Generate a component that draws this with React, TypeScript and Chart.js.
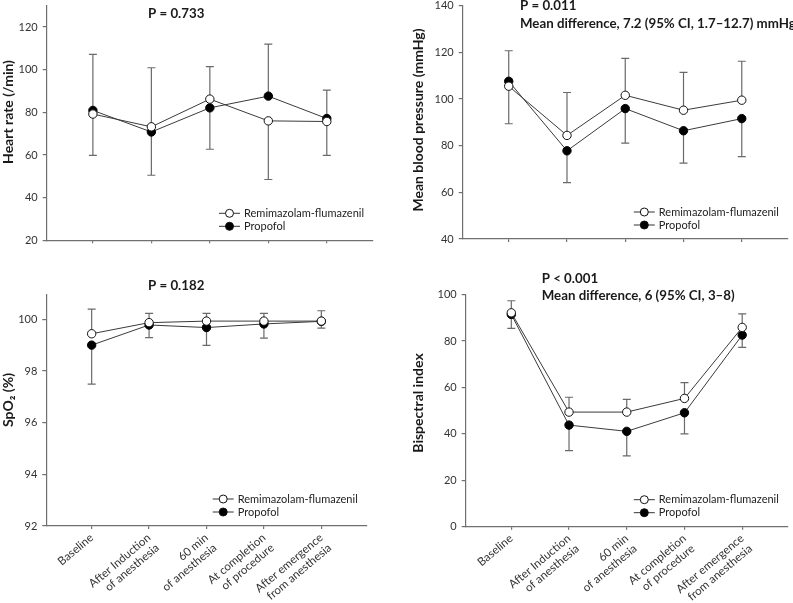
import React, { useEffect, useRef } from "react";
import { Chart, registerables } from "chart.js";

Chart.register(...registerables);

// ---------- data ----------
const categories: string[][] = [
  ["Baseline"],
  ["After Induction", "of anesthesia"],
  ["60 min", "of anesthesia"],
  ["At completion", "of procedure"],
  ["After emergence", "from anesthesia"],
];
const seriesNames = ["Remimazolam-flumazenil", "Propofol"];

// Heart rate
const hrRemi = [79.2, 73.2, 86.2, 76.0, 75.7];
const hrProp = [80.9, 70.8, 82.1, 87.6, 77.1];
const hrRemiErr = [59.8, 100.9, 101.4, 48.5, 59.8];
const hrPropErr = [107.2, 50.5, 62.7, 112.0, 90.4];
const hrTicks = [20, 40, 60, 80, 100, 120];

// Mean blood pressure
const mbpRemi = [105.5, 84.4, 101.6, 95.2, 99.5];
const mbpProp = [107.6, 77.8, 95.9, 86.4, 91.6];
const mbpRemiErr = [89.4, 102.8, 117.4, 111.4, 116.2];
const mbpPropErr = [120.7, 64.2, 81.1, 72.5, 75.3];
const mbpTicks = [40, 60, 80, 100, 120, 140];

// SpO2
const spo2Remi = [99.44, 99.87, 99.93, 99.93, 99.93];
const spo2Prop = [99.0, 99.78, 99.68, 99.82, 99.92];
const spo2RemiErr = [100.39, 100.23, 100.23, 100.23, 100.33];
const spo2PropErr = [97.49, 99.29, 98.99, 99.27, 99.66];
const spo2Ticks = [92, 94, 96, 98, 100];

// Bispectral index
const bisRemi = [92.2, 49.4, 49.4, 55.3, 85.9];
const bisProp = [91.5, 43.8, 41.1, 49.1, 82.6];
const bisRemiErr = [97.4, 55.8, 54.9, 62.1, 91.7];
const bisPropErr = [85.5, 32.8, 30.5, 40.0, 77.3];
const bisTicks = [0, 20, 40, 60, 80, 100];

// ---------- layout ----------
const W = 793;
const H = 603;
const Y_W = 40;
const FONT = "Lato, 'Open Sans', sans-serif";
const AXIS = "#707070";

type Panel = {
  remi: number[];
  prop: number[];
  remiErr: number[];
  propErr: number[];
  ticks: number[];
  yMin: number;
  yMax: number;
  yTitle: string;
  titleX: number;
  titleY: number;
  notes: { text: string; x: number; y: number }[];
  area: { l: number; r: number; t: number; b: number };
  showX: boolean;
};

const panels: Panel[] = [
  {
    remi: hrRemi, prop: hrProp, remiErr: hrRemiErr, propErr: hrPropErr,
    ticks: hrTicks, yMin: 20, yMax: 130,
    yTitle: "Heart rate (/min)", titleX: 8, titleY: 112,
    notes: [{ text: "P = 0.733", x: 148, y: 14 }],
    area: { l: 46.7, r: 373, t: 5.7, b: 240.3 }, showX: false,
  },
  {
    remi: mbpRemi, prop: mbpProp, remiErr: mbpRemiErr, propErr: mbpPropErr,
    ticks: mbpTicks, yMin: 40, yMax: 140,
    yTitle: "Mean blood pressure (mmHg)", titleX: 418, titleY: 120,
    notes: [
      { text: "P = 0.011", x: 520, y: 5.5 },
      { text: "Mean difference, 7.2 (95% CI, 1.7\u201312.7) mmHg", x: 520, y: 24 },
    ],
    area: { l: 462.7, r: 791.7, t: 5.7, b: 239 }, showX: false,
  },
  {
    remi: spo2Remi, prop: spo2Prop, remiErr: spo2RemiErr, propErr: spo2PropErr,
    ticks: spo2Ticks, yMin: 92, yMax: 100.94,
    yTitle: "SpO\u2082 (%)", titleX: 8, titleY: 400,
    notes: [{ text: "P = 0.182", x: 148, y: 286 }],
    area: { l: 46.3, r: 366.7, t: 295, b: 526 }, showX: true,
  },
  {
    remi: bisRemi, prop: bisProp, remiErr: bisRemiErr, propErr: bisPropErr,
    ticks: bisTicks, yMin: 0, yMax: 100,
    yTitle: "Bispectral index", titleX: 418, titleY: 403,
    notes: [
      { text: "P < 0.001", x: 541.7, y: 278.3 },
      { text: "Mean difference, 6 (95% CI, 3\u20138)", x: 541.7, y: 296 },
    ],
    area: { l: 465.7, r: 789, t: 294.7, b: 526.7 }, showX: true,
  },
];

function makeOverlay(p: Panel) {
  return {
    id: "overlay",
    beforeDatasetsDraw(chart: any) {
      const ctx = chart.ctx;
      const xs = chart.scales.x;
      const ys = chart.scales.y;
      const pairs = [
        [p.remi, p.remiErr],
        [p.prop, p.propErr],
      ];
      ctx.save();
      ctx.strokeStyle = "#6a6a6a";
      ctx.lineWidth = 1.2;
      pairs.forEach(([means, ends]) => {
        ends.forEach((end, i) => {
          const px = xs.getPixelForValue(i);
          const y0 = ys.getPixelForValue(means[i]);
          const y1 = ys.getPixelForValue(end);
          ctx.beginPath();
          ctx.moveTo(px, y0);
          ctx.lineTo(px, y1);
          ctx.moveTo(px - 4, y1);
          ctx.lineTo(px + 4, y1);
          ctx.stroke();
        });
      });
      ctx.restore();
    },
    afterDraw(chart: any) {
      const ctx = chart.ctx;
      const a = chart.chartArea;
      ctx.save();
      // legend
      const lx = a.right - 154;
      const rows = [a.bottom - 27, a.bottom - 14];
      rows.forEach((ry, k) => {
        ctx.strokeStyle = "#333";
        ctx.lineWidth = 1;
        ctx.beginPath();
        ctx.moveTo(lx, ry);
        ctx.lineTo(lx + 21, ry);
        ctx.stroke();
        ctx.beginPath();
        ctx.arc(lx + 10.5, ry, 4, 0, Math.PI * 2);
        ctx.fillStyle = k === 0 ? "#fff" : "#000";
        ctx.fill();
        ctx.strokeStyle = "#111";
        ctx.stroke();
        ctx.fillStyle = "#222";
        ctx.font = `11px ${FONT}`;
        ctx.textAlign = "left";
        ctx.textBaseline = "middle";
        ctx.fillText(seriesNames[k], lx + 25, ry);
      });
      // notes
      ctx.fillStyle = "#1a1a1a";
      ctx.font = `bold 13.3px ${FONT}`;
      ctx.textAlign = "left";
      ctx.textBaseline = "middle";
      p.notes.forEach((n) => ctx.fillText(n.text, n.x, n.y));
      // y title
      ctx.translate(p.titleX, p.titleY);
      ctx.rotate(-Math.PI / 2);
      ctx.font = `bold 14px ${FONT}`;
      ctx.textAlign = "center";
      ctx.fillText(p.yTitle, 0, 0);
      ctx.restore();
    },
  };
}

function PanelChart({ p }: { p: Panel }) {
  const ref = useRef<HTMLCanvasElement | null>(null);
  useEffect(() => {
    if (!ref.current) return;
    const xH = p.showX ? 76 : 6;
    const chart = new Chart(ref.current, {
      type: "line",
      data: {
        datasets: [
          {
            label: seriesNames[0],
            data: p.remi.map((v, i) => ({ x: i, y: v })),
            borderColor: "#3a3a3a",
            borderWidth: 1,
            pointRadius: 4.2,
            pointBackgroundColor: "#ffffff",
            pointBorderColor: "#111",
            pointBorderWidth: 1,
            fill: false,
            tension: 0,
          },
          {
            label: seriesNames[1],
            data: p.prop.map((v, i) => ({ x: i, y: v })),
            borderColor: "#3a3a3a",
            borderWidth: 1,
            pointRadius: 4.2,
            pointBackgroundColor: "#000000",
            pointBorderColor: "#000",
            pointBorderWidth: 1,
            fill: false,
            tension: 0,
          },
        ],
      },
      options: {
        responsive: false,
        animation: false,
        devicePixelRatio: 1,
        events: [],
        layout: {
          padding: {
            left: p.area.l - Y_W,
            top: p.area.t,
            right: W - p.area.r,
            bottom: H - p.area.b - xH,
          },
        },
        plugins: { legend: { display: false }, tooltip: { enabled: false } },
        scales: {
          x: {
            type: "linear",
            min: -0.79,
            max: 4.79,
            afterBuildTicks: (s: any) => {
              s.ticks = categories.map((_, i) => ({ value: i }));
            },
            afterFit: (s: any) => {
              s.height = xH;
              s.paddingLeft = 0;
              s.paddingRight = 0;
            },
            ticks: {
              display: p.showX,
              autoSkip: false,
              minRotation: 40,
              maxRotation: 40,
              padding: 2,
              color: "#333",
              font: { family: FONT, size: 11.5, lineHeight: 1.15 },
              callback: (v: any) => categories[Math.round(Number(v))] || "",
            },
            grid: {
              display: true,
              drawOnChartArea: false,
              drawTicks: true,
              tickLength: 3,
              color: AXIS,
              lineWidth: 1.2,
            },
            border: { display: true, color: AXIS, width: 1.2 },
          },
          y: {
            type: "linear",
            min: p.yMin,
            max: p.yMax,
            afterBuildTicks: (s: any) => {
              s.ticks = p.ticks.map((v) => ({ value: v }));
            },
            afterFit: (s: any) => {
              s.width = Y_W;
              s.paddingTop = 0;
              s.paddingBottom = 0;
            },
            ticks: {
              padding: 5,
              color: "#333",
              font: { family: FONT, size: 11 },
            },
            grid: {
              display: true,
              drawOnChartArea: false,
              drawTicks: true,
              tickLength: 4,
              color: AXIS,
              lineWidth: 1.2,
            },
            border: { display: true, color: AXIS, width: 1.2 },
          },
        },
      } as any,
      plugins: [makeOverlay(p)],
    });
    return () => chart.destroy();
  }, [p]);
  return (
    <canvas
      ref={ref}
      width={W}
      height={H}
      style={{ position: "absolute", left: 0, top: 0, width: W, height: H }}
    />
  );
}

export default function App() {
  return (
    <div
      style={{
        position: "absolute",
        left: 0,
        top: 0,
        width: W,
        height: H,
        background: "#fff",
        overflow: "hidden",
      }}
    >
      {panels.map((p, i) => (
        <PanelChart key={i} p={p} />
      ))}
    </div>
  );
}
